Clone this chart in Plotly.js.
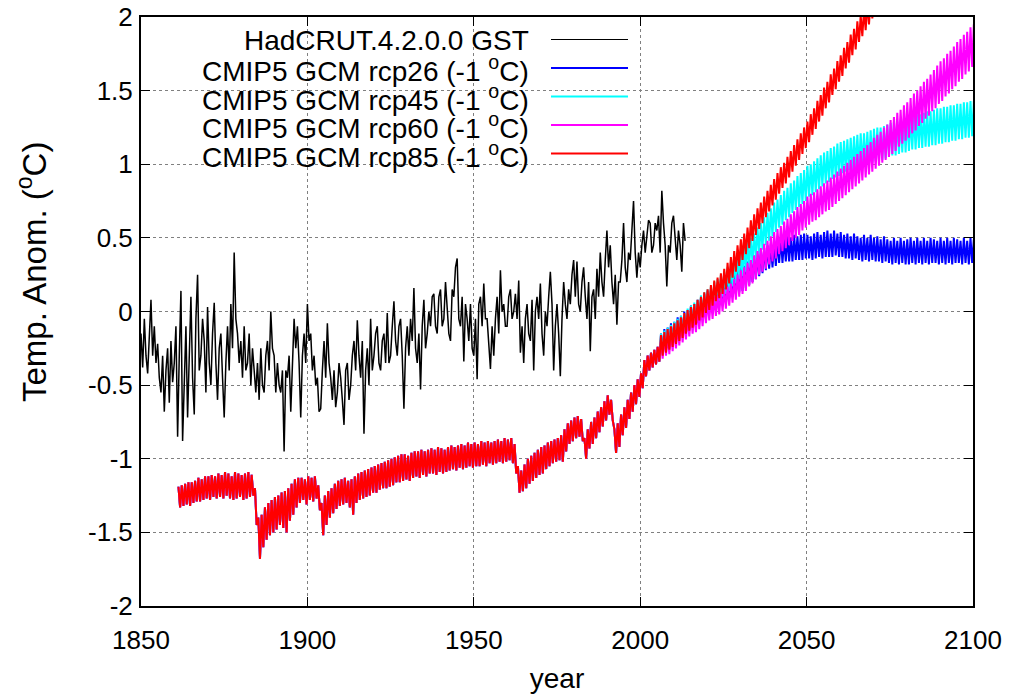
<!DOCTYPE html>
<html>
<head>
<meta charset="utf-8">
<script src="https://cdn.plot.ly/plotly-3.0.1.min.js"></script>
<style>html,body{margin:0;padding:0;background:#fff;}#chart{width:1011px;height:694px;}</style>
</head>
<body>
<div id="chart"></div>
<script>
// ---------------- DATA ----------------
// HadCRUT.4.2.0.0 global surface temperature, sampled every half year from 1850.0
const hadcrutStart = 1850;
const hadcrutStep = 0.5;
const hadcrut = [
 -0.15,-0.38, -0.05,-0.30, -0.42,-0.12, 0.08,-0.30, -0.10,-0.35, -0.22,-0.45, -0.55,-0.30, -0.68,-0.40, -0.25,-0.62, -0.20,-0.48,
 -0.35,-0.10, -0.85,-0.30, 0.14,-0.88, -0.40,-0.10, -0.72,-0.30, 0.10,-0.45, -0.70,-0.05, 0.25,-0.40, -0.30,-0.05, -0.20,-0.55,
 0.03,-0.35, -0.50,-0.15, 0.06,-0.35, -0.60,-0.25, -0.15,-0.45, -0.72,-0.35, -0.10,-0.40, 0.05,-0.25, 0.40,-0.05, -0.15,-0.35,
 -0.20,-0.45, -0.10,-0.40, -0.35,-0.15, -0.50,-0.25, -0.40,-0.55, -0.35,-0.60, -0.25,-0.50, -0.55,-0.30, -0.20,-0.40, 0.00,-0.25,
 -0.30,-0.55, -0.35,-0.50, -0.55,-0.40, -0.95,-0.40, -0.45,-0.30, -0.68,-0.30, -0.05,-0.25, -0.10,-0.35, -0.72,-0.30, -0.15,-0.35,
 0.05,-0.20, -0.15,-0.40, -0.30,-0.50, -0.45,-0.68, -0.66,-0.40, -0.20,-0.45, -0.08,-0.35, -0.45,-0.60, -0.40,-0.65, -0.55,-0.35,
 -0.45,-0.60, -0.77,-0.40, -0.35,-0.60, -0.50,-0.30, -0.20,-0.40, -0.06,-0.30, -0.45,-0.20, -0.83,-0.40, -0.25,-0.50, -0.05,-0.40,
 -0.30,-0.15, -0.10,-0.35, -0.40,-0.20, -0.15,-0.35, -0.01,-0.35, -0.30,-0.10, 0.07,-0.20, -0.30,-0.10, -0.05,-0.30, -0.66,-0.25,
 -0.10,-0.30, -0.05,-0.20, 0.16,-0.25, -0.35,-0.15, -0.53,-0.10, 0.08,-0.25, -0.15,0.00, -0.10,0.10, 0.12,-0.10, -0.15,0.10,
 0.15,-0.10, -0.05,0.20, 0.05,-0.15, -0.20,0.15, 0.10,0.30, 0.36,-0.05, -0.10,0.10, -0.34,0.05, -0.05,-0.20, 0.05,-0.25,
 -0.30,-0.05, -0.46,0.05, 0.10,-0.10, 0.19,-0.05, -0.05,-0.25, -0.39,-0.10, -0.30,-0.05, 0.10,-0.15, 0.28,0.00, 0.05,-0.10,
 -0.10,0.10, 0.15,-0.05, 0.00,0.12, -0.05,0.21, -0.28,-0.10, -0.35,-0.05, 0.05,-0.15, -0.20,0.08, -0.40,0.00, 0.10,-0.05,
 0.19,-0.15, -0.30,0.00, -0.10,0.10, 0.27,0.05, -0.40,-0.10, 0.05,-0.15, -0.44,-0.05, 0.20,0.05, -0.05,0.15, 0.05,0.25,
 0.35,0.10, 0.34,0.05, 0.00,0.20, 0.30,0.10, -0.05,0.20, -0.27,0.10, 0.15,-0.05, 0.29,0.10, 0.40,0.20, 0.10,0.35,
 0.55,0.30, 0.45,0.20, 0.05,0.25, -0.09,0.20, 0.20,0.35, 0.60,0.30, 0.20,0.40, 0.35,0.55, 0.75,0.40, 0.23,0.40,
 0.30,0.45, 0.55,0.40, 0.50,0.62, 0.60,0.40, 0.45,0.60, 0.55,0.65, 0.40,0.82, 0.60,0.45, 0.17,0.45, 0.40,0.60,
 0.65,0.50, 0.35,0.55, 0.45,0.27, 0.60,0.48
];

// CMIP5 GCM historical run (shared by all scenarios), yearly seasonal high / low, from 1861
const histStart = 1861;
const histHigh = [
 -1.19,-1.18,-1.17,-1.16,-1.16,-1.15,-1.13,-1.14,-1.12,-1.12,
 -1.11,-1.12,-1.10,-1.11,-1.09,-1.10,-1.12,-1.09,-1.10,-1.11,
 -1.10,-1.09,-1.11,-1.20,-1.40,-1.38,-1.33,-1.30,-1.28,-1.26,
 -1.25,-1.23,-1.22,-1.20,-1.17,-1.14,-1.13,-1.13,-1.14,-1.12,
 -1.13,-1.12,-1.18,-1.30,-1.25,-1.22,-1.20,-1.17,-1.15,-1.14,
 -1.13,-1.15,-1.14,-1.12,-1.10,-1.09,-1.08,-1.07,-1.06,-1.05,
 -1.04,-1.03,-1.02,-1.01,-1.00,-0.99,-0.98,-0.97,-0.97,-0.98,
 -0.96,-0.95,-0.95,-0.94,-0.95,-0.94,-0.93,-0.94,-0.92,-0.93,
 -0.94,-0.92,-0.91,-0.92,-0.91,-0.90,-0.91,-0.89,-0.90,-0.89,
 -0.90,-0.88,-0.89,-0.88,-0.89,-0.88,-0.87,-0.88,-0.86,-0.87,
 -0.86,-0.90,-1.05,-1.08,-1.04,-1.00,-0.98,-0.96,-0.94,-0.92,
 -0.91,-0.89,-0.88,-0.87,-0.86,-0.84,-0.80,-0.76,-0.74,-0.72,
 -0.71,-0.73,-0.86,-0.80,-0.75,-0.72,-0.68,-0.65,-0.61,-0.57,
 -0.60,-0.80,-0.76,-0.70,-0.65,-0.60,-0.55,-0.50,-0.46,-0.42,
 -0.33,-0.30,-0.28,-0.26,-0.24
];
const histLow = [
 -1.33,-1.32,-1.31,-1.32,-1.30,-1.29,-1.29,-1.28,-1.27,-1.28,
 -1.26,-1.27,-1.26,-1.27,-1.25,-1.27,-1.28,-1.27,-1.26,-1.28,
 -1.27,-1.26,-1.25,-1.45,-1.68,-1.60,-1.55,-1.52,-1.50,-1.48,
 -1.45,-1.47,-1.50,-1.42,-1.38,-1.33,-1.30,-1.28,-1.31,-1.28,
 -1.29,-1.27,-1.35,-1.52,-1.45,-1.40,-1.37,-1.34,-1.32,-1.31,
 -1.30,-1.33,-1.38,-1.30,-1.28,-1.27,-1.26,-1.25,-1.23,-1.23,
 -1.21,-1.20,-1.20,-1.19,-1.18,-1.16,-1.16,-1.15,-1.14,-1.15,
 -1.13,-1.12,-1.13,-1.11,-1.12,-1.10,-1.10,-1.11,-1.09,-1.10,
 -1.09,-1.08,-1.07,-1.08,-1.06,-1.07,-1.06,-1.05,-1.06,-1.05,
 -1.05,-1.04,-1.05,-1.03,-1.04,-1.03,-1.02,-1.03,-1.02,-1.01,
 -1.03,-1.10,-1.23,-1.22,-1.20,-1.17,-1.15,-1.13,-1.11,-1.10,
 -1.07,-1.05,-1.03,-1.02,-1.01,-1.02,-0.95,-0.90,-0.88,-0.86,
 -0.85,-0.88,-1.00,-0.93,-0.90,-0.86,-0.82,-0.78,-0.74,-0.70,
 -0.74,-0.96,-0.92,-0.84,-0.79,-0.73,-0.68,-0.63,-0.58,-0.52,
 -0.44,-0.40,-0.38,-0.36,-0.34
];

// Scenario projections, yearly seasonal high / low, from 2006
const projStart = 2006;
const rcp26High = [
 -0.15,-0.12,-0.11,-0.08,-0.07,-0.04,-0.03,0.00,0.01,0.04,
 0.05,0.08,0.09,0.12,0.14,0.15,0.18,0.19,0.21,0.23,
 0.24,0.26,0.27,0.29,0.30,0.31,0.34,0.35,0.38,0.39,
 0.42,0.43,0.45,0.46,0.47,0.48,0.50,0.49,0.51,0.50,
 0.52,0.51,0.52,0.53,0.52,0.51,0.53,0.54,0.52,0.54,
 0.55,0.53,0.55,0.53,0.54,0.52,0.53,0.51,0.53,0.51,
 0.50,0.52,0.50,0.52,0.50,0.51,0.49,0.51,0.49,0.48,
 0.50,0.48,0.50,0.48,0.49,0.50,0.48,0.50,0.48,0.50,
 0.48,0.50,0.49,0.48,0.50,0.48,0.50,0.48,0.50,0.49,
 0.48,0.50,0.48,0.50,0.49
];
const rcp26Low = [
 -0.28,-0.26,-0.24,-0.22,-0.20,-0.18,-0.16,-0.14,-0.12,-0.10,
 -0.08,-0.06,-0.04,-0.02,0.00,0.02,0.04,0.05,0.06,0.08,
 0.09,0.11,0.12,0.13,0.14,0.16,0.18,0.20,0.22,0.24,
 0.26,0.28,0.29,0.30,0.31,0.33,0.33,0.34,0.34,0.34,
 0.35,0.35,0.35,0.36,0.36,0.35,0.36,0.37,0.36,0.37,
 0.37,0.37,0.38,0.37,0.37,0.36,0.36,0.35,0.36,0.35,
 0.34,0.35,0.34,0.35,0.34,0.34,0.33,0.34,0.33,0.32,
 0.33,0.32,0.33,0.32,0.32,0.33,0.32,0.33,0.32,0.33,
 0.32,0.33,0.33,0.32,0.33,0.32,0.33,0.32,0.33,0.33,
 0.32,0.33,0.32,0.33,0.33
];
const rcp45High = [
 -0.15,-0.13,-0.11,-0.09,-0.07,-0.05,-0.03,-0.01,0.02,0.04,
 0.06,0.08,0.11,0.13,0.15,0.17,0.20,0.22,0.25,0.27,
 0.30,0.33,0.35,0.38,0.41,0.44,0.47,0.50,0.53,0.57,
 0.60,0.64,0.67,0.70,0.74,0.76,0.79,0.82,0.84,0.87,
 0.89,0.92,0.94,0.96,0.99,1.00,1.02,1.04,1.06,1.08,
 1.09,1.11,1.12,1.14,1.15,1.16,1.17,1.18,1.19,1.20,
 1.21,1.21,1.22,1.23,1.24,1.25,1.25,1.26,1.27,1.28,
 1.29,1.29,1.30,1.31,1.32,1.32,1.33,1.34,1.34,1.35,
 1.36,1.36,1.37,1.38,1.38,1.39,1.39,1.40,1.40,1.41,
 1.41,1.42,1.42,1.43,1.43
];
const rcp45Low = [
 -0.29,-0.27,-0.25,-0.23,-0.21,-0.19,-0.17,-0.15,-0.13,-0.11,
 -0.09,-0.07,-0.04,-0.02,0.00,0.02,0.05,0.07,0.10,0.12,
 0.14,0.17,0.19,0.22,0.24,0.27,0.30,0.33,0.36,0.39,
 0.42,0.45,0.48,0.51,0.54,0.57,0.59,0.62,0.64,0.67,
 0.69,0.71,0.73,0.75,0.78,0.79,0.81,0.83,0.85,0.87,
 0.88,0.90,0.91,0.92,0.94,0.95,0.96,0.96,0.97,0.98,
 0.99,1.00,1.00,1.01,1.02,1.03,1.03,1.04,1.05,1.06,
 1.06,1.07,1.08,1.08,1.09,1.10,1.10,1.11,1.11,1.12,
 1.12,1.13,1.13,1.14,1.14,1.15,1.15,1.16,1.16,1.17,
 1.17,1.18,1.18,1.19,1.19
];
const rcp60High = [
 -0.19,-0.17,-0.16,-0.14,-0.12,-0.10,-0.08,-0.06,-0.04,-0.02,
 -0.01,0.01,0.03,0.05,0.07,0.08,0.10,0.11,0.13,0.15,
 0.17,0.19,0.22,0.25,0.28,0.30,0.33,0.35,0.38,0.41,
 0.43,0.46,0.48,0.51,0.54,0.56,0.58,0.61,0.63,0.66,
 0.68,0.71,0.73,0.75,0.78,0.80,0.81,0.83,0.85,0.87,
 0.89,0.91,0.93,0.95,0.97,0.99,1.01,1.03,1.05,1.07,
 1.09,1.11,1.13,1.15,1.18,1.20,1.22,1.25,1.27,1.30,
 1.32,1.35,1.37,1.40,1.42,1.45,1.48,1.50,1.53,1.56,
 1.58,1.61,1.64,1.67,1.70,1.72,1.75,1.77,1.80,1.83,
 1.85,1.88,1.90,1.93,1.95
];
const rcp60Low = [
 -0.32,-0.30,-0.29,-0.27,-0.25,-0.23,-0.21,-0.19,-0.17,-0.15,
 -0.14,-0.12,-0.10,-0.08,-0.06,-0.05,-0.03,-0.02,0.00,0.02,
 0.04,0.06,0.08,0.10,0.12,0.14,0.17,0.19,0.22,0.25,
 0.27,0.29,0.32,0.34,0.36,0.39,0.41,0.43,0.45,0.48,
 0.50,0.52,0.55,0.57,0.59,0.61,0.62,0.64,0.66,0.68,
 0.69,0.71,0.73,0.75,0.77,0.79,0.81,0.83,0.85,0.87,
 0.89,0.91,0.93,0.95,0.97,0.99,1.01,1.03,1.05,1.07,
 1.09,1.12,1.14,1.16,1.18,1.21,1.23,1.26,1.28,1.31,
 1.33,1.36,1.38,1.41,1.43,1.46,1.48,1.51,1.53,1.56,
 1.58,1.61,1.63,1.66,1.68
];
const rcp85High = [
 -0.16,-0.14,-0.12,-0.10,-0.08,-0.06,-0.04,-0.01,0.01,0.03,
 0.05,0.08,0.10,0.13,0.15,0.18,0.21,0.23,0.26,0.29,
 0.33,0.37,0.41,0.45,0.49,0.53,0.57,0.62,0.66,0.70,
 0.74,0.78,0.82,0.86,0.90,0.94,0.98,1.01,1.05,1.09,
 1.13,1.17,1.21,1.25,1.29,1.34,1.38,1.43,1.47,1.52,
 1.56,1.61,1.65,1.70,1.74,1.79,1.83,1.88,1.92,1.97,
 2.01,2.05,2.09,2.13,2.17,2.21,2.25
];
const rcp85Low = [
 -0.30,-0.28,-0.26,-0.24,-0.22,-0.20,-0.18,-0.15,-0.13,-0.11,
 -0.09,-0.06,-0.04,-0.01,0.01,0.04,0.07,0.09,0.12,0.15,
 0.19,0.23,0.27,0.31,0.35,0.39,0.43,0.48,0.52,0.56,
 0.60,0.64,0.68,0.72,0.76,0.80,0.84,0.87,0.91,0.95,
 0.99,1.03,1.07,1.11,1.15,1.20,1.24,1.29,1.33,1.38,
 1.42,1.47,1.51,1.56,1.60,1.65,1.69,1.74,1.78,1.83,
 1.87,1.91,1.95,1.99,2.03,2.07,2.11
];

const xTickVals = [1850, 1900, 1950, 2000, 2050, 2100];
const xTickText = ['1850', '1900', '1950', '2000', '2050', '2100'];
const yTickVals = [-2, -1.5, -1, -0.5, 0, 0.5, 1, 1.5, 2];
const yTickText = ['-2', '-1.5', '-1', '-0.5', '0', '0.5', '1', '1.5', '2'];

const seriesNames = [
  'HadCRUT.4.2.0.0 GST',
  'CMIP5 GCM rcp26 (-1 <sup>o</sup>C)',
  'CMIP5 GCM rcp45 (-1 <sup>o</sup>C)',
  'CMIP5 GCM rcp60 (-1 <sup>o</sup>C)',
  'CMIP5 GCM rcp85 (-1 <sup>o</sup>C)'
];
const seriesColors = ['#000000', '#0000ff', '#00ffff', '#ff00ff', '#ff0000'];

// ---------------- BUILD ----------------
function seasonal(start, hi, lo, xs, ys) {
  for (let i = 0; i < hi.length; i++) {
    xs.push(start + i + 0.25); ys.push(hi[i]);
    xs.push(start + i + 0.75); ys.push(lo[i]);
  }
}
function scenario(hiP, loP) {
  const xs = [], ys = [];
  seasonal(histStart, histHigh, histLow, xs, ys);
  seasonal(projStart, hiP, loP, xs, ys);
  return {x: xs, y: ys};
}

const hadX = hadcrut.map((v, i) => hadcrutStart + i * hadcrutStep);
const scen = [
  scenario(rcp26High, rcp26Low),
  scenario(rcp45High, rcp45Low),
  scenario(rcp60High, rcp60Low),
  scenario(rcp85High, rcp85Low)
];

const traces = [{
  x: hadX, y: hadcrut, type: 'scatter', mode: 'lines',
  line: {color: seriesColors[0], width: 1.5}, name: seriesNames[0], hoverinfo: 'skip'
}];
scen.forEach((s, k) => traces.push({
  x: s.x, y: s.y, type: 'scatter', mode: 'lines',
  line: {color: seriesColors[k + 1], width: 2}, name: seriesNames[k + 1], hoverinfo: 'skip'
}));

const FONT = 'Liberation Sans, Arial, Helvetica, sans-serif';
const M = {l: 141, r: 38, t: 17, b: 88};
const W = 1011, H = 694;
const PW = W - M.l - M.r, PH = H - M.t - M.b;
function px2x(px) { return (px - M.l) / PW; }
function py2y(py) { return (H - M.b - py) / PH; }

// gnuplot-style key: right-aligned label, sample line to its right
const keyRows = [39.5, 68, 96.5, 125, 153.5];
const annotations = [];
const shapes = [];
seriesNames.forEach((n, i) => {
  annotations.push({
    xref: 'paper', yref: 'paper', x: px2x(531), y: py2y(keyRows[i] + 1),
    xanchor: 'right', yanchor: 'middle', text: n, showarrow: false,
    font: {family: FONT, size: 28, color: '#000'}
  });
  shapes.push({
    type: 'line', xref: 'paper', yref: 'paper',
    x0: px2x(551), x1: px2x(628), y0: py2y(keyRows[i]), y1: py2y(keyRows[i]),
    line: {color: seriesColors[i], width: i === 0 ? 1 : 2}
  });
});
annotations.push({
  xref: 'paper', yref: 'paper', x: px2x(32), y: py2y(272),
  xanchor: 'center', yanchor: 'middle', textangle: -90,
  text: 'Temp. Anom. (<sup>o</sup>C)', showarrow: false,
  font: {family: FONT, size: 33, color: '#000'}
});

const axisCommon = {
  showline: true, linecolor: '#000', linewidth: 2, mirror: 'ticks',
  ticks: 'inside', ticklen: 9, tickwidth: 1, tickcolor: '#000',
  showgrid: true, gridcolor: '#808080', gridwidth: 1, griddash: 'dot',
  zeroline: false, tickfont: {family: FONT, size: 26, color: '#000'}
};

const layout = {
  width: W, height: H, margin: M,
  paper_bgcolor: '#fff', plot_bgcolor: '#fff',
  showlegend: false,
  font: {family: FONT, size: 26, color: '#000'},
  xaxis: Object.assign({}, axisCommon, {
    range: [1850, 2100], tickmode: 'array', tickvals: xTickVals, ticktext: xTickText,
    ticklabelstandoff: 10,
    title: {text: 'year', font: {family: FONT, size: 28, color: '#000'}, standoff: 15}
  }),
  yaxis: Object.assign({}, axisCommon, {
    range: [-2, 2], tickmode: 'array', tickvals: yTickVals, ticktext: yTickText,
    ticklabelstandoff: 1
  }),
  annotations: annotations,
  shapes: shapes
};

Plotly.newPlot('chart', traces, layout, {staticPlot: true, displayModeBar: false});
</script>
</body>
</html>
